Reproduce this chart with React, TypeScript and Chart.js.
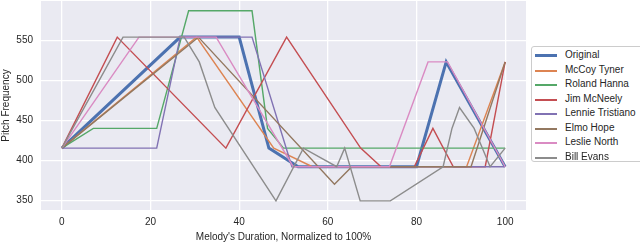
import React, { useEffect, useRef } from "react";
import { Chart, registerables } from "chart.js";

Chart.register(...registerables);

const seriesNames = [
  "Original",
  "McCoy Tyner",
  "Roland Hanna",
  "Jim McNeely",
  "Lennie Tristiano",
  "Elmo Hope",
  "Leslie North",
  "Bill Evans",
];
const seriesColors = ["#4C72B0", "#DD8452", "#55A868", "#C44E52", "#8172B3", "#937860", "#DA8BC3", "#8C8C8C"];

const originalX = [0, 26.7, 40, 46.7, 53.3, 80, 86.7, 100];
const originalY = [415.3, 554.4, 554.4, 415.3, 392, 392, 523.3, 392];

const mccoyX = [0, 30.4, 47.8, 56.5, 91.3, 100];
const mccoyY = [415.3, 554.4, 415.3, 392, 392, 523.3];

const rolandX = [0, 7.1, 21.4, 28.6, 42.9, 46.4, 50, 100];
const rolandY = [415.3, 440, 440, 587.3, 587.3, 440, 415.3, 415.3];

const jimX = [0, 12.5, 37, 50.7, 67.4, 72, 79.5, 83.7, 88.3, 95.5, 100];
const jimY = [415.3, 554.4, 415.3, 554.4, 415.3, 392, 392, 440, 392, 392, 523.3];

const lennieX = [0, 21.4, 26.7, 42.9, 51.9, 100];
const lennieY = [415.3, 415.3, 554.4, 554.4, 392, 392];

const elmoX = [0, 30.8, 61.5, 65.4, 92.3, 100];
const elmoY = [415.3, 554.4, 370, 392, 392, 523.3];

const leslieX = [0, 17.4, 34.8, 52.2, 73.9, 82.6, 87, 100];
const leslieY = [415.3, 554.4, 554.4, 392, 392, 523.3, 523.3, 392];

const billX = [0, 13.8, 27.6, 31, 34.5, 48.3, 54.5, 62, 63.8, 67.3, 74.1, 86, 88, 89.7, 93, 96.6, 100];
const billY = [415.3, 554.4, 554.4, 523.3, 466.2, 349.2, 415.3, 392, 415.3, 349.2, 349.2, 392, 440, 466.2, 440, 392, 415.3];

const xTicks = [0, 20, 40, 60, 80, 100];
const yTicks = [350, 400, 450, 500, 550];

const seriesX = [originalX, mccoyX, rolandX, jimX, lennieX, elmoX, leslieX, billX];
const seriesY = [originalY, mccoyY, rolandY, jimY, lennieY, elmoY, leslieY, billY];

const FONT = "'Liberation Sans', Arial, sans-serif";

const bgPlugin = {
  id: "bgPlugin",
  beforeDraw(chart: any) {
    const { ctx, chartArea } = chart;
    ctx.save();
    ctx.fillStyle = "#EAEAF2";
    ctx.fillRect(chartArea.left, chartArea.top, chartArea.right - chartArea.left, chartArea.bottom - chartArea.top);
    ctx.restore();
  },
};

export default function App() {
  const ref = useRef<HTMLCanvasElement | null>(null);

  useEffect(() => {
    if (!ref.current) return;
    const datasets = seriesNames.map((name, i) => ({
      label: name,
      data: seriesX[i].map((x, j) => ({ x, y: seriesY[i][j] })),
      borderColor: seriesColors[i],
      backgroundColor: seriesColors[i],
      borderWidth: i === 0 ? 3 : 1.4,
      pointRadius: 0,
      tension: 0,
      fill: false,
      order: seriesNames.length - i,
    }));
    const chart = new Chart(ref.current, {
      type: "line",
      data: { datasets },
      plugins: [bgPlugin],
      options: {
        animation: false,
        responsive: false,
        devicePixelRatio: 1,
        layout: { padding: { top: 1, right: 114, left: 0, bottom: 0 } },
        plugins: { legend: { display: false }, tooltip: { enabled: false } },
        scales: {
          x: {
            type: "linear",
            min: -4.7,
            max: 104.7,
            afterBuildTicks: (s: any) => {
              s.ticks = xTicks.map((v) => ({ value: v }));
            },
            afterFit: (s: any) => {
              s.height = 33;
              s.paddingLeft = 0;
              s.paddingRight = 0;
            },
            grid: { color: "#FFFFFF", lineWidth: 1.3, drawTicks: false },
            border: { display: false },
            ticks: { padding: 6, color: "#262626", font: { family: FONT, size: 10 }, maxRotation: 0 },
            title: {
              display: true,
              text: "Melody's Duration, Normalized to 100%",
              color: "#262626",
              font: { family: FONT, size: 10 },
              padding: 0,
            },
          },
          y: {
            type: "linear",
            min: 337.8,
            max: 599.6,
            afterBuildTicks: (s: any) => {
              s.ticks = yTicks.map((v) => ({ value: v }));
            },
            afterFit: (s: any) => {
              s.width = 41;
              s.paddingTop = 0;
              s.paddingBottom = 0;
            },
            grid: { color: "#FFFFFF", lineWidth: 1.3, drawTicks: false },
            border: { display: false },
            ticks: { padding: 8, color: "#262626", font: { family: FONT, size: 10 } },
            title: {
              display: true,
              text: "Pitch Frequency",
              color: "#262626",
              font: { family: FONT, size: 10 },
              padding: 0,
            },
          },
        },
      },
    });
    return () => chart.destroy();
  }, []);

  return (
    <div style={{ position: "fixed", left: 0, top: 0, width: 640, height: 243, overflow: "hidden", background: "#fff" }}>
      <canvas ref={ref} width={640} height={243} style={{ position: "absolute", left: 0, top: 0 }} />
      <div
        style={{
          position: "absolute",
          left: 531,
          top: 46,
          width: 130,
          height: 116,
          border: "1px solid #CCCCCC",
          borderRadius: 3,
          background: "#FFFFFF",
          boxSizing: "border-box",
          fontFamily: FONT,
          fontSize: 10,
          color: "#262626",
        }}
      >
        {seriesNames.map((name, i) => (
          <div
            key={name}
            style={{ position: "absolute", left: 0, top: 1 + i * 14.5, height: 14, width: 130 }}
          >
            <div
              style={{
                position: "absolute",
                left: 3,
                top: i === 0 ? 6 : 7,
                width: 22,
                height: i === 0 ? 3 : 2,
                background: seriesColors[i],
              }}
            />
            <span style={{ position: "absolute", left: 33, top: 1, whiteSpace: "nowrap", lineHeight: "12px" }}>{name}</span>
          </div>
        ))}
      </div>
    </div>
  );
}
